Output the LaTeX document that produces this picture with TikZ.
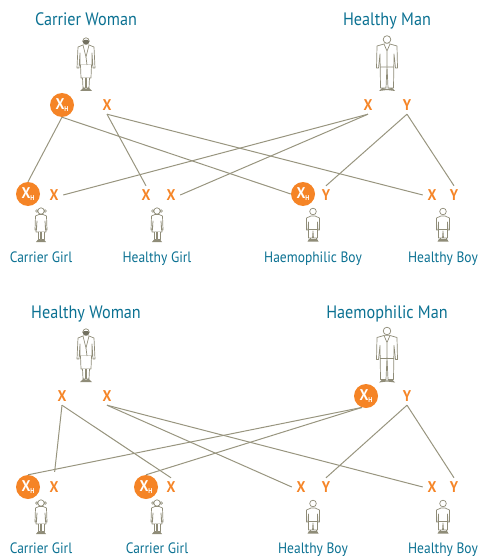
\documentclass[tikz,border=0pt]{standalone}
\usepackage{fontspec}
\setmainfont[FakeStretch=0.9]{PT Sans}
\usepackage{tikz}
\usetikzlibrary{positioning}

\definecolor{titleteal}{HTML}{0B7192}
\definecolor{alleleorange}{HTML}{F58426}
\definecolor{linegrey}{HTML}{98957F}
\definecolor{figgrey}{HTML}{8F8C78}

\newcommand{\xhlabel}{X\raisebox{-1.5pt}{\fontsize{7}{7}\selectfont H}}

\tikzset{
    figline/.style={draw=figgrey, fill=white, line width=0.7pt, line join=round},
    woman/.pic={
        \draw [figline] (-8,-18) -- (-9,3) -- (-7,3) -- (-6,-12) -- (-6,0) -- (6,0) -- (6,-12) -- (7,3) -- (9,3) -- (8,-18) -- (3,-20) -- (-3,-20) -- cycle;
        \draw [figline] (-5.5,0) -- (-5,13) -- (5,13) -- (5.5,0);
        \draw [figline] (-3.5,13) -- (-3,23) -- (-.5,23) -- (-.5,13) (.5,13) -- (.5,23) -- (3,23) -- (3.5,13);
        \draw [figline] (-3,-20) -- (0,-8) -- (3,-20);
        \draw [figline] (0,-8) -- (1,0);
        \fill [figgrey] (-6,26) -- (-2.5,22.5) -- (0,24) -- (2.5,22.5) -- (6,26) -- cycle;
        \draw [figline] (0,-24) circle (3.2);
        \fill [figgrey!80!black] (-3.4,-24) arc (180:0:3.4) -- (1.5,-25) -- (-1.5,-25) -- cycle;
    },
    man/.pic={
        \draw [figline] (-10,-18) -- (-10.5,4) -- (-8.5,4) -- (-7,-10) -- (-6.5,24) -- (-1,24) -- (0,2) -- (1,24) -- (6.5,24) -- (7,-10) -- (8.5,4) -- (10.5,4) -- (10,-18) -- (3,-20) -- (-3,-20) -- cycle;
        \draw [figline] (-3,-20) -- (0,-13) -- (3,-20) (0,-13) -- (0,2) (-7,3) -- (7,3);
        \fill [figgrey] (-8,27) -- (-5,24) -- (0,25) -- (5,24) -- (8,27) -- (0,26) -- cycle;
        \draw [figline] (0,-24.5) circle (3.8);
    },
    girl/.pic={
        \draw [figline] (-5.5,-9) -- (-6,5) -- (-4.5,5) -- (-4,-4) -- (-5,7) -- (5,7) -- (4,-4) -- (4.5,5) -- (6,5) -- (5.5,-9) -- (2,-10.5) -- (-2,-10.5) -- cycle;
        \draw [figline] (-3,7) -- (-3,14.5) -- (-.5,14.5) -- (-.5,7) (.5,7) -- (.5,14.5) -- (3,14.5) -- (3,7);
        \fill [figgrey] (-5,17) -- (-3,14.5) -- (3,14.5) -- (5,17) -- cycle;
        \draw [figline] (-4.2,-14) circle (1.3) (4.2,-14) circle (1.3) (0,-14) circle (3.2);
    },
    boy/.pic={
        \draw [figline] (-6.5,-7) -- (-6.5,5) -- (-5,5) -- (-4.5,-3) -- (-4.5,13) -- (-.5,13) -- (0,6) -- (.5,13) -- (4.5,13) -- (4.5,-3) -- (5,5) -- (6.5,5) -- (6.5,-7) -- (2,-9) -- (-2,-9) -- cycle;
        \draw [figline] (-4.5,4) -- (4.5,4);
        \draw [figline] (-3,13) -- (-3,14.5) (3,13) -- (3,14.5);
        \fill [figgrey] (-5.5,16.5) -- (-4,14) -- (4,14) -- (5.5,16.5) -- cycle;
        \draw [figline] (0,-13.5) circle (3.3);
    }
}

\begin{document}
\begin{tikzpicture}[
                    x=1pt,
                    y=-1pt,
                    title/.style={text=titleteal, font=\fontsize{18}{18}\selectfont, inner sep=0pt, anchor=base},
                    caption/.style={text=titleteal, font=\fontsize{15}{15}\selectfont, inner sep=0pt, anchor=base},
                    allele/.style={
                        text=alleleorange,
                        font=\fontsize{15.5}{15.5}\selectfont\bfseries,
                        minimum size=18pt,
                        inner sep=0pt
                    },
                    xhallele/.style={
                        circle,
                        fill=alleleorange,
                        text=white,
                        font=\fontsize{15.5}{15.5}\selectfont\bfseries,
                        minimum size=24pt,
                        inner sep=0pt
                    },
                    link/.style={draw=linegrey, line width=1pt}
                ]
                \useasboundingbox (0,0) rectangle (478,556);

                % top family
                \node (TW) [title] at (86,26) {Carrier Woman};
                \node (TM) [title] at (387,26) {Healthy Man};
                \pic at (86,65) {woman};
                \pic at (387,64) {man};

                \node (A) [xhallele] at (62,105) {\xhlabel};
                \node (B) [allele, right of=A, node distance=45pt] {X};
                \node (C) [allele] at (368,105) {X};
                \node (D) [allele, right of=C, node distance=39pt] {Y};

                \node (E) [xhallele] at (28,194) {\xhlabel};
                \node (F) [allele] at (54,195) {X};
                \node (G) [allele] at (146,195) {X};
                \node (H) [allele, right of=G, node distance=25pt] {X};
                \node (I) [xhallele] at (303,194) {\xhlabel};
                \node (J) [allele] at (326,195) {Y};
                \node (K) [allele] at (432,195) {X};
                \node (L) [allele, right of=K, node distance=22pt] {Y};

                \pic at (41,225) {girl};
                \pic at (157,225) {girl};
                \pic at (313,225) {boy};
                \pic at (443,225) {boy};

                \node (CG) [caption] at (41,262) {Carrier Girl};
                \node (HG) [caption] at (157,262) {Healthy Girl};
                \node (HB) [caption] at (313,262) {Haemophilic Boy};
                \node (OB) [caption] at (443,262) {Healthy Boy};

                \draw [link] (A.south) -- (E.north);
                \draw [link] (A.south) -- (I.west);
                \draw [link] (B.south) -- (G.north);
                \draw [link] (B.south) -- (K.west);
                \draw [link] (C.south) -- (F.east);
                \draw [link] (C.south) -- (H.east);
                \draw [link] (D.south) -- (J.north);
                \draw [link] (D.south) -- (L.north);

                % bottom family
                \node (TW2) [title] at (86,318) {Healthy Woman};
                \node (TM2) [title] at (387,318) {Haemophilic Man};
                \pic at (86,356) {woman};
                \pic at (387,355.5) {man};

                \node (A2) [allele] at (62,396) {X};
                \node (B2) [allele, right of=A2, node distance=45pt] {X};
                \node (C2) [xhallele] at (366,396) {\xhlabel};
                \node (D2) [allele] at (407,396) {Y};

                \node (E2) [xhallele] at (28,487) {\xhlabel};
                \node (F2) [allele] at (54,487) {X};
                \node (G2) [xhallele] at (146,487) {\xhlabel};
                \node (H2) [allele] at (171,487) {X};
                \node (I2) [allele] at (301,487) {X};
                \node (J2) [allele] at (326,487) {Y};
                \node (K2) [allele] at (432,487) {X};
                \node (L2) [allele, right of=K2, node distance=22pt] {Y};

                \pic at (41,517) {girl};
                \pic at (157,517) {girl};
                \pic at (313,517) {boy};
                \pic at (443,517) {boy};

                \node (CG2) [caption] at (41,553) {Carrier Girl};
                \node (CG3) [caption] at (157,553) {Carrier Girl};
                \node (HB2) [caption] at (313,553) {Healthy Boy};
                \node (OB2) [caption] at (443,553) {Healthy Boy};

                \draw [link, shorten >=6pt] (A2.south) -- (F2.north);
                \draw [link] (A2.south) -- (H2.north);
                \draw [link] (B2.south) -- (I2.west);
                \draw [link] (B2.south) -- (K2.west);
                \draw [link] (C2.250) -- (E2.north);
                \draw [link] (C2.250) -- (G2.north);
                \draw [link] (D2.south) -- (J2.north);
                \draw [link] (D2.south) -- (L2.north);
            \end{tikzpicture}
\end{document}
